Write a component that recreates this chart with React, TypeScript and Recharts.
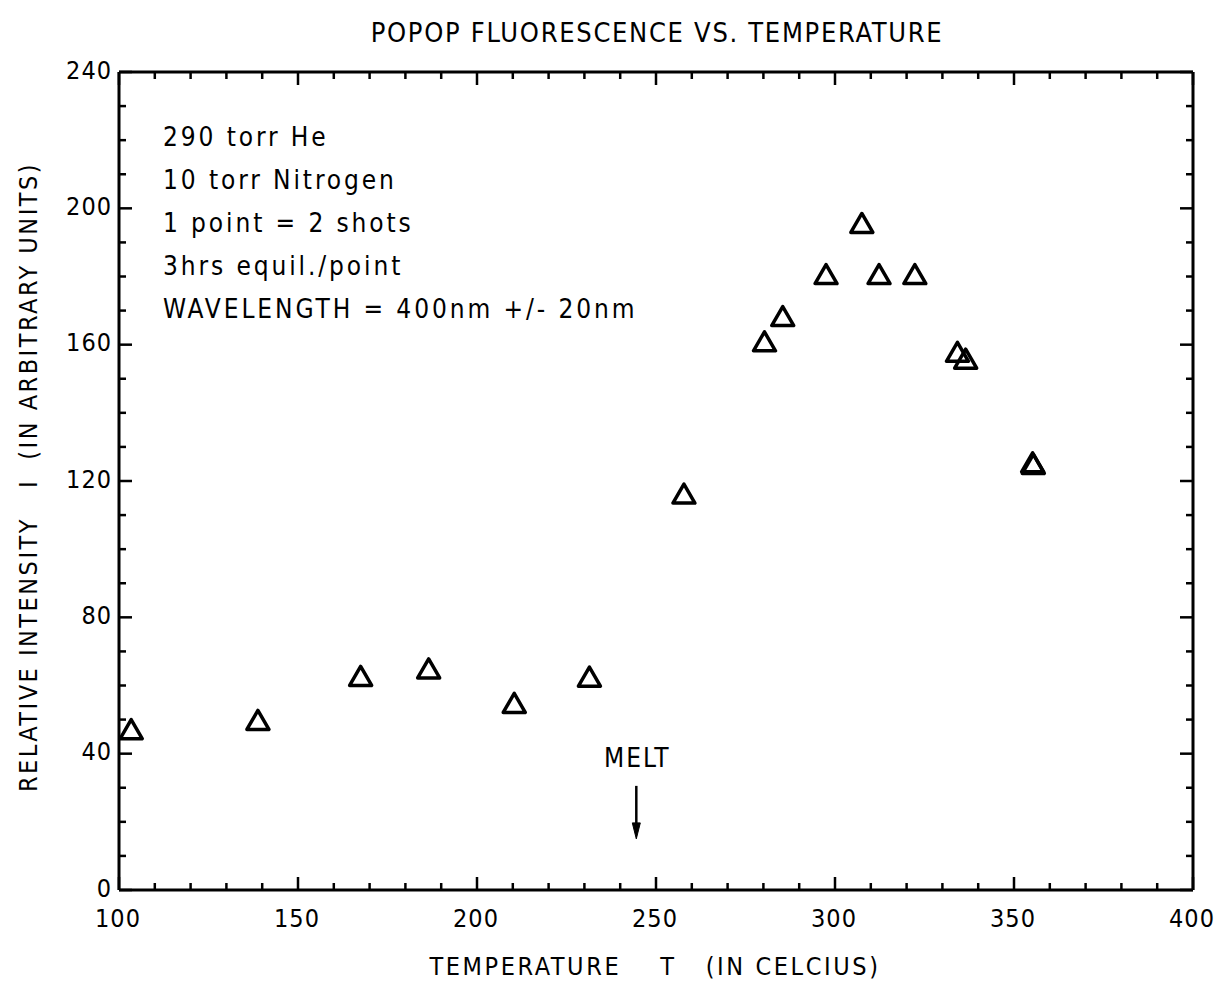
import React from 'react';
import { ScatterChart, Scatter, XAxis, YAxis, ReferenceDot } from 'recharts';

// ---- data ----
const temperatures = [103.4, 138.8, 167.5, 186.5, 210.4, 231.4, 257.8, 280.3, 285.4, 297.5, 307.5, 312.3, 322.3, 334.2, 336.5, 355.2, 355.4];
const intensities = [47.2, 49.9, 62.8, 65.0, 54.9, 62.6, 116.3, 161.0, 168.4, 180.7, 195.7, 180.7, 180.7, 157.9, 155.9, 125.5, 125.0];

const xTicks = [100, 110, 120, 130, 140, 150, 160, 170, 180, 190, 200, 210, 220, 230, 240, 250, 260, 270, 280, 290, 300, 310, 320, 330, 340, 350, 360, 370, 380, 390, 400];
const yTicks = [0, 10, 20, 30, 40, 50, 60, 70, 80, 90, 100, 110, 120, 130, 140, 150, 160, 170, 180, 190, 200, 210, 220, 230, 240];
const xLabelled = [100, 150, 200, 250, 300, 350, 400];
const yLabelled = [0, 40, 80, 120, 160, 200, 240];

const titleText = 'POPOP FLUORESCENCE VS. TEMPERATURE';
const xAxisTitle = 'TEMPERATURE    T   (IN CELCIUS)';
const yAxisTitle = 'RELATIVE INTENSITY   I  (IN ARBITRARY UNITS)';
const notes = ['290 torr He', '10 torr Nitrogen', '1 point = 2 shots', '3hrs equil./point', 'WAVELENGTH = 400nm +/- 20nm'];
const meltLabel = 'MELT';
const meltTemperature = 244.5;
const meltArrowTip = 15;

const points = temperatures.map((t, i) => ({ t, v: intensities[i] }));

const FONT = '"DejaVu Sans Condensed", "Liberation Sans Narrow", "DejaVu Sans", sans-serif';
const FS = 25;
const INK = '#000';

const tickStyle: React.CSSProperties = { fontFamily: FONT, fontSize: FS, fill: INK, letterSpacing: 1 };
const meltStyle: React.CSSProperties = { fontFamily: FONT, fontSize: 26, fill: INK, letterSpacing: 2 };

const BottomTick = (props: any) => {
  const { x, y, payload } = props;
  const v = payload.value;
  const major = xLabelled.includes(v);
  return (
    <g>
      <line x1={x} x2={x} y1={y} y2={y - (major ? 13 : 7)} stroke={INK} strokeWidth={2.5} />
      {major && (
        <text x={x - 1} y={y + 37} textAnchor="middle" style={tickStyle}>{v}</text>
      )}
    </g>
  );
};

const TopTick = (props: any) => {
  const { x, y, payload } = props;
  const major = xLabelled.includes(payload.value);
  return <line x1={x} x2={x} y1={y} y2={y + (major ? 13 : 7)} stroke={INK} strokeWidth={2.5} />;
};

const LeftTick = (props: any) => {
  const { x, y, payload } = props;
  const v = payload.value;
  const major = yLabelled.includes(v);
  return (
    <g>
      <line x1={x} x2={x + (major ? 13 : 7)} y1={y} y2={y} stroke={INK} strokeWidth={2.5} />
      {major && (
        <text x={x - 7} y={y + 6.5} textAnchor="end" style={tickStyle}>{v}</text>
      )}
    </g>
  );
};

const RightTick = (props: any) => {
  const { x, y, payload } = props;
  const major = yLabelled.includes(payload.value);
  return <line x1={x} x2={x - (major ? 13 : 7)} y1={y} y2={y} stroke={INK} strokeWidth={2.5} />;
};

const Triangle = (props: any) => {
  const { cx, cy } = props;
  if (cx == null || cy == null) return null;
  const w = 11;
  const h = 9.5;
  const d = `M${cx},${cy - h} L${cx + w},${cy + h} L${cx - w},${cy + h} Z`;
  return <path d={d} fill="none" stroke={INK} strokeWidth={3.5} strokeLinejoin="round" />;
};

const MeltMarker = (props: any) => {
  const { cx, cy } = props;
  if (cx == null || cy == null) return null;
  return (
    <g>
      <text x={cx + 1} y={cy - 72} textAnchor="middle" style={meltStyle}>{meltLabel}</text>
      <line x1={cx} x2={cx} y1={cy - 53} y2={cy - 12} stroke={INK} strokeWidth={2.5} />
      <path d={`M${cx - 4},${cy - 16} L${cx + 4},${cy - 16} L${cx},${cy} Z`} fill={INK} stroke={INK} strokeWidth={1} />
    </g>
  );
};

const axisLine = { stroke: INK, strokeWidth: 3 };

export default function App() {
  return (
    <div style={{ position: 'relative', width: 1206, height: 975, background: '#fff', fontFamily: FONT, color: INK }}>
      <ScatterChart width={1206} height={967} margin={{ top: 0, right: 0, bottom: 0, left: 0 }}>
        <XAxis
          xAxisId="b"
          dataKey="t"
          type="number"
          orientation="bottom"
          domain={[100, 400]}
          ticks={xTicks}
          interval={0}
          height={85}
          tickSize={0}
          tickMargin={0}
          tickLine={false}
          axisLine={axisLine}
          tick={<BottomTick />}
          allowDataOverflow
        />
        <XAxis
          xAxisId="t"
          dataKey="t"
          type="number"
          orientation="top"
          domain={[100, 400]}
          ticks={xTicks}
          interval={0}
          height={64}
          tickSize={0}
          tickMargin={0}
          tickLine={false}
          axisLine={axisLine}
          tick={<TopTick />}
          allowDataOverflow
        />
        <YAxis
          yAxisId="l"
          dataKey="v"
          type="number"
          orientation="left"
          domain={[0, 240]}
          ticks={yTicks}
          interval={0}
          width={111}
          tickSize={0}
          tickMargin={0}
          tickLine={false}
          axisLine={axisLine}
          tick={<LeftTick />}
          allowDataOverflow
        />
        <YAxis
          yAxisId="r"
          dataKey="v"
          type="number"
          orientation="right"
          domain={[0, 240]}
          ticks={yTicks}
          interval={0}
          width={21}
          tickSize={0}
          tickMargin={0}
          tickLine={false}
          axisLine={axisLine}
          tick={<RightTick />}
          allowDataOverflow
        />
        <Scatter
          data={points}
          xAxisId="b"
          yAxisId="l"
          shape={<Triangle />}
          isAnimationActive={false}
        />
        <ReferenceDot
          x={meltTemperature}
          y={meltArrowTip}
          xAxisId="b"
          yAxisId="l"
          shape={<MeltMarker />}
        />
      </ScatterChart>

      <div style={{ position: 'absolute', left: 649, top: 24, transform: 'translate(-50%, -50%)', whiteSpace: 'pre', fontSize: 27, letterSpacing: 1.7, lineHeight: 1 }}>
        {titleText}
      </div>
      <div style={{ position: 'absolute', left: 647, top: 958, transform: 'translate(-50%, -50%)', whiteSpace: 'pre', fontSize: 25, letterSpacing: 2.6, lineHeight: 1 }}>
        {xAxisTitle}
      </div>
      <div style={{ position: 'absolute', left: 20, top: 469, transform: 'translate(-50%, -50%) rotate(-90deg)', whiteSpace: 'pre', fontSize: 25, letterSpacing: 2.5, lineHeight: 1 }}>
        {yAxisTitle}
      </div>
      <div style={{ position: 'absolute', left: 155, top: 108, fontSize: 26, letterSpacing: 2.9, lineHeight: '43px', whiteSpace: 'pre' }}>
        {notes.map((n) => (
          <div key={n}>{n}</div>
        ))}
      </div>
    </div>
  );
}
